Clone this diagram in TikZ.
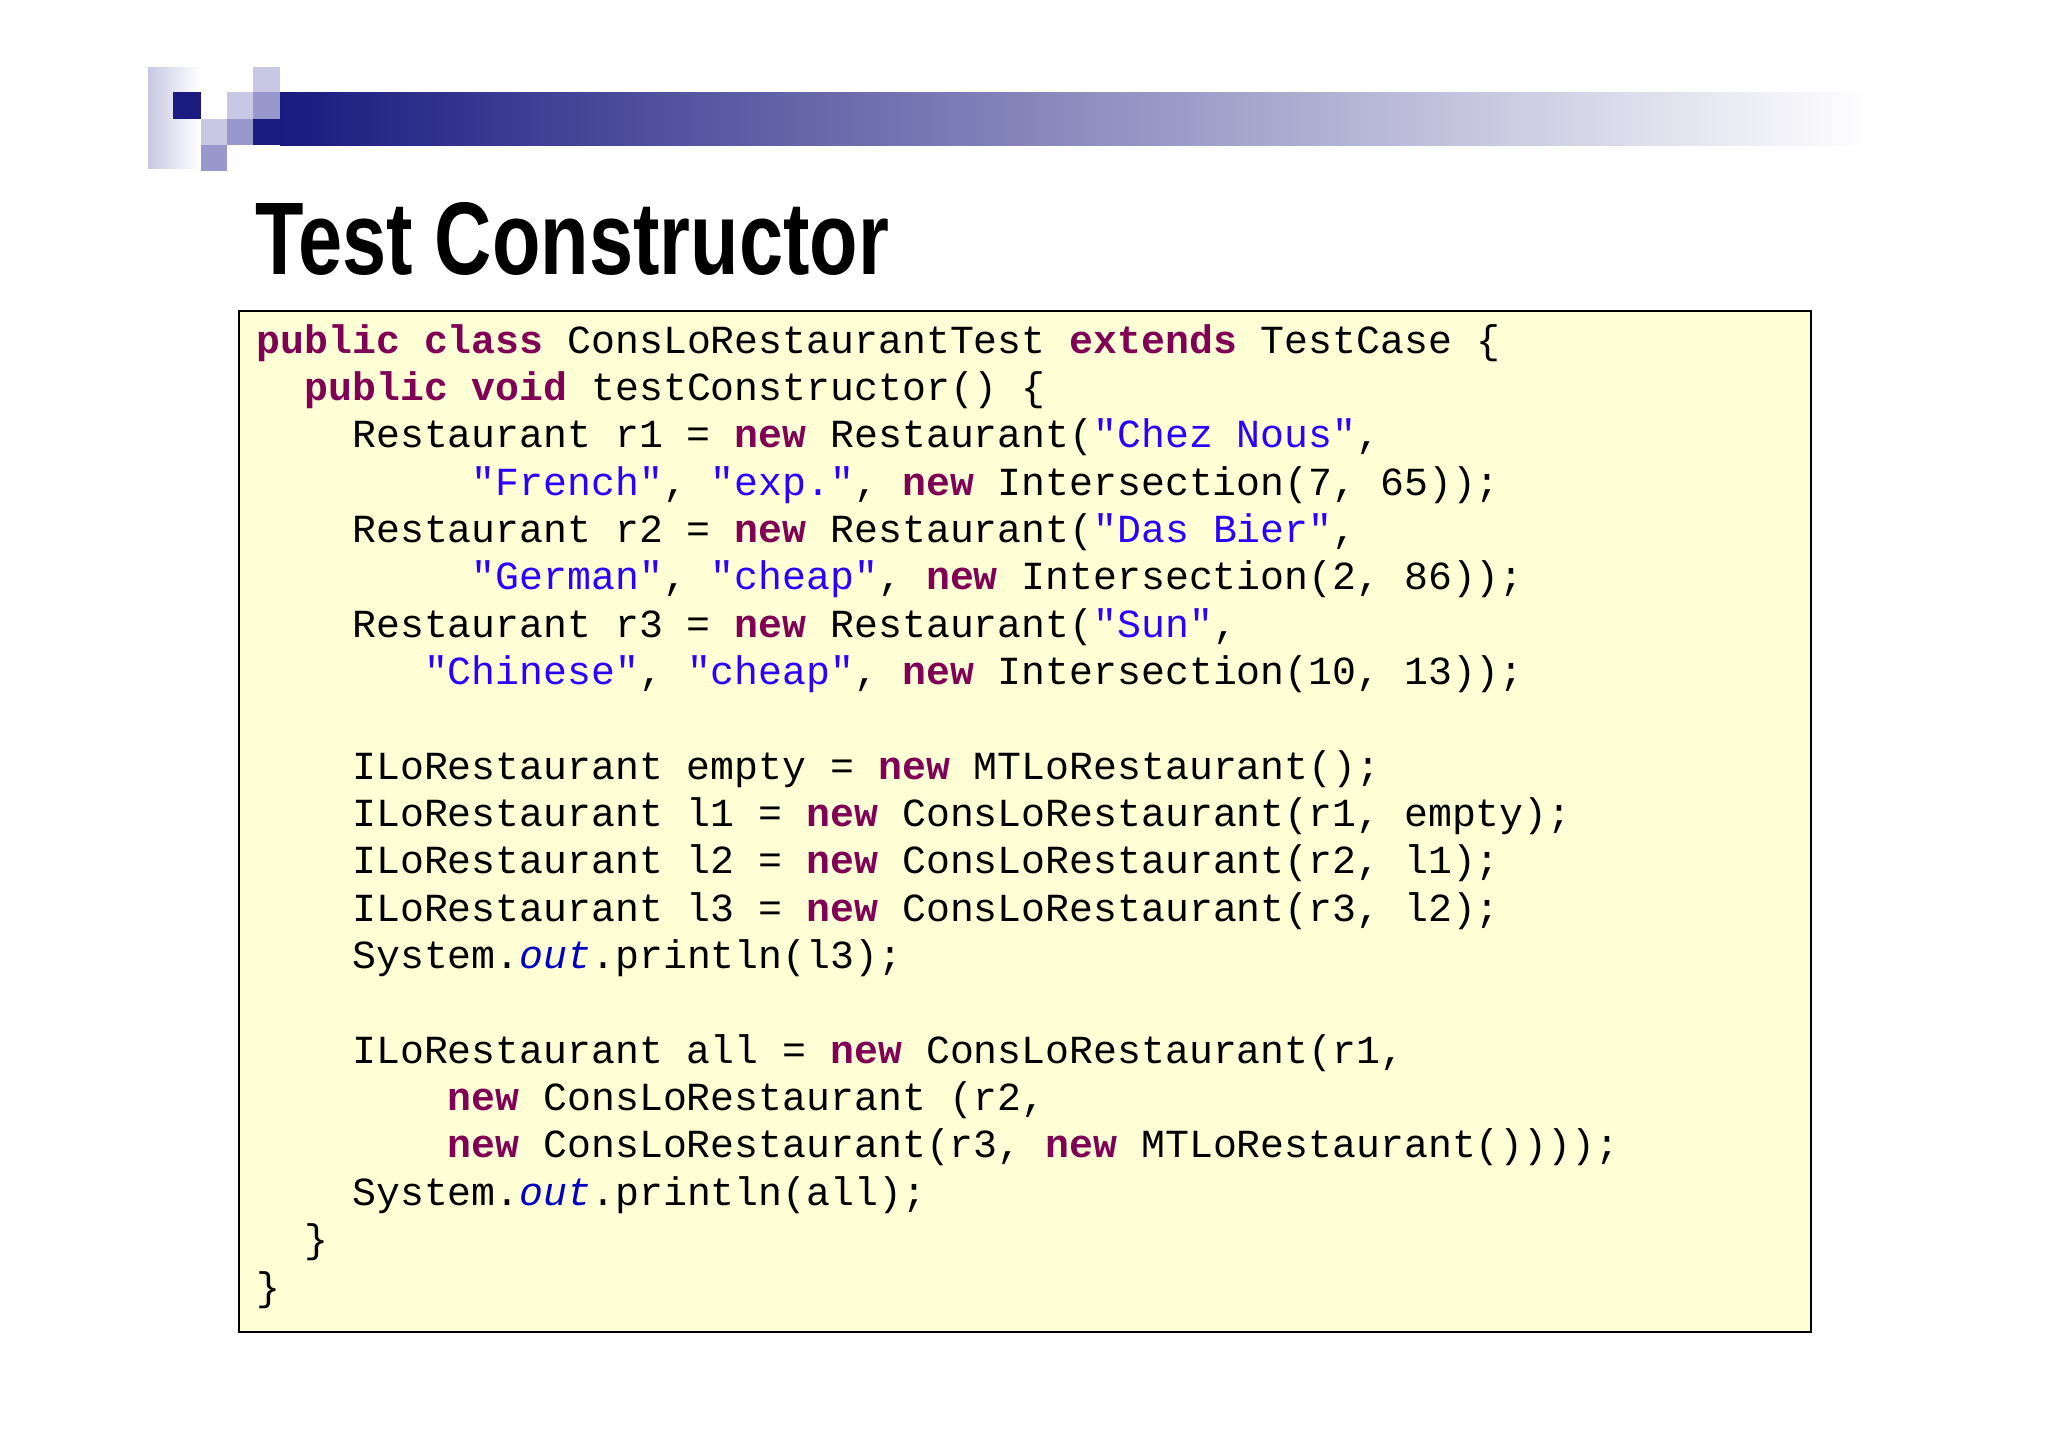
\documentclass[tikz,border=0pt]{standalone}
\usepackage{fontspec}
\setmainfont{Liberation Sans}
\setmonofont{Liberation Mono}
\definecolor{kwc}{HTML}{7F0055}
\definecolor{strc}{HTML}{2A00FF}
\definecolor{outc}{HTML}{0000C0}
\definecolor{boxc}{HTML}{FFFFD6}
\definecolor{navy}{HTML}{1A1A80}
\definecolor{lav}{HTML}{C8C8E4}
\definecolor{med}{HTML}{9898CC}
\newcommand\kw[1]{\textcolor{kwc}{\bfseries #1}}
\newcommand\st[1]{\textcolor{strc}{#1}}
\newcommand\ot{\textcolor{outc}{\itshape out}}
\begin{document}
\begin{tikzpicture}[x=0.01cm,y=-0.01cm,
  code/.style={anchor=base west,inner sep=0,font=\ttfamily\fontsize{11.33}{13}\selectfont}]
\useasboundingbox (0,0) rectangle (2048,1447);
% logo
\shade[left color=lav,right color=white] (148,67) rectangle (200,168);
\fill[navy] (173,92) rectangle (201,119);
\fill[lav] (201,119) rectangle (227,145);
\fill[med] (201,145) rectangle (227,171);
\fill[lav] (227,92) rectangle (253,119);
\fill[med] (227,119) rectangle (253,145);
\fill[lav] (253,67) rectangle (280,92);
\fill[med] (253,92) rectangle (280,119);
\fill[navy] (253,119) rectangle (280,145);
\shade[left color=navy,right color=white] (280,92) rectangle (1870,145);
% title
\node[anchor=base west,inner sep=0] (title) at (255,274) {\resizebox{6.33cm}{0.72cm}{\bfseries Test Constructor}};
% box
\node[draw=black,line width=0.7pt,fill=boxc,minimum width=15.71cm,minimum height=10.2cm,anchor=north west,inner sep=0] (box) at (238,310) {};
\def\L#1#2#3{\node[code] (l#1) at (256+#2*23.9,353+#1*47.35) {#3};}
\L{0}{0}{\kw{public} \kw{class} ConsLoRestaurantTest \kw{extends} TestCase \{}
\L{1}{2}{\kw{public} \kw{void} testConstructor() \{}
\L{2}{4}{Restaurant r1 = \kw{new} Restaurant(\st{"Chez Nous"},}
\L{3}{9}{\st{"French"}, \st{"exp."}, \kw{new} Intersection(7, 65));}
\L{4}{4}{Restaurant r2 = \kw{new} Restaurant(\st{"Das Bier"},}
\L{5}{9}{\st{"German"}, \st{"cheap"}, \kw{new} Intersection(2, 86));}
\L{6}{4}{Restaurant r3 = \kw{new} Restaurant(\st{"Sun"},}
\L{7}{7}{\st{"Chinese"}, \st{"cheap"}, \kw{new} Intersection(10, 13));}
\L{9}{4}{ILoRestaurant empty = \kw{new} MTLoRestaurant();}
\L{10}{4}{ILoRestaurant l1 = \kw{new} ConsLoRestaurant(r1, empty);}
\L{11}{4}{ILoRestaurant l2 = \kw{new} ConsLoRestaurant(r2, l1);}
\L{12}{4}{ILoRestaurant l3 = \kw{new} ConsLoRestaurant(r3, l2);}
\L{13}{4}{System.\ot.println(l3);}
\L{15}{4}{ILoRestaurant all = \kw{new} ConsLoRestaurant(r1,}
\L{16}{8}{\kw{new} ConsLoRestaurant (r2,}
\L{17}{8}{\kw{new} ConsLoRestaurant(r3, \kw{new} MTLoRestaurant())));}
\L{18}{4}{System.\ot.println(all);}
\L{19}{2}{\}}
\L{20}{0}{\}}
\end{tikzpicture}
\end{document}
